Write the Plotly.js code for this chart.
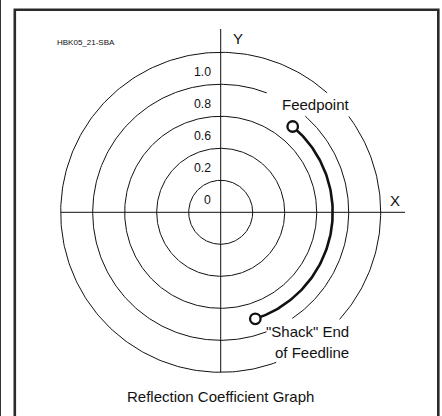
<!DOCTYPE html>
<html><head><meta charset="utf-8">
<script src="https://cdn.plot.ly/plotly-3.0.1.min.js"></script>
<style>html,body{margin:0;padding:0;background:#fff;} #chart{width:442px;height:416px;}</style>
</head><body><div id="chart"></div>
<script>
// ---- chart data ----
const ringRadii = [0.2, 0.4, 0.6, 0.8, 1.0];
const ringLabels = ['0', '0.2', '0.6', '0.8', '1.0'];
const feedRadius = 0.70;
const feedpointAngle = 50;   // degrees
const shackAngle = -72;      // degrees
const axisLabels = ['X', 'Y'];
const feedpointLabel = 'Feedpoint';
const shackLabel = ['"Shack" End', 'of Feedline'];
const chartTitle = 'Reflection Coefficient Graph';
const figureId = 'HBK05_21-SBA';

// ---- layout geometry ----
const W = 442, H = 416, CX = 220.7, CY = 212.3, S = 160;
const px = p => (p - CX) / S;
const py = p => (CY - p) / S;
const FONT = 'Liberation Sans, Arial, Helvetica, sans-serif';
const INK = '#111';
// visible angular ranges of rings that are interrupted by text
const ringArcs = {
  3: [[68.9, 291], [-56, 48.6]],
  4: [[48.3, 290.3], [-42, 36.8]]
};

function arc(r, a0, a1, xs, ys) {
  const n = Math.max(2, Math.ceil(Math.abs(a1 - a0)));
  for (let i = 0; i <= n; i++) {
    const a = (a0 + (a1 - a0) * i / n) * Math.PI / 180;
    xs.push(r * Math.cos(a)); ys.push(r * Math.sin(a));
  }
}

const traces = [];
ringRadii.forEach((r, i) => {
  const xs = [], ys = [];
  const ranges = ringArcs[i] || [[0, 360]];
  ranges.forEach((rg, k) => {
    if (k > 0) { xs.push(null); ys.push(null); }
    arc(r, rg[0], rg[1], xs, ys);
  });
  traces.push({x: xs, y: ys, type: 'scatter', mode: 'lines',
    line: {color: INK, width: 1}, hoverinfo: 'skip', showlegend: false});
});

// feedline arc
{
  const xs = [], ys = [];
  arc(feedRadius, feedpointAngle, shackAngle, xs, ys);
  traces.push({x: xs, y: ys, type: 'scatter', mode: 'lines',
    line: {color: INK, width: 2.6}, hoverinfo: 'skip', showlegend: false});
  const ends = [feedpointAngle, shackAngle].map(a => a * Math.PI / 180);
  traces.push({x: ends.map(a => feedRadius * Math.cos(a)), y: ends.map(a => feedRadius * Math.sin(a)),
    type: 'scatter', mode: 'markers',
    marker: {size: 10.5, color: '#fff', line: {color: INK, width: 2.3}},
    hoverinfo: 'skip', showlegend: false});
}

const annotations = [];
function ann(text, x, y, size, xanchor, extra) {
  annotations.push(Object.assign({text, x, y, xref: 'x', yref: 'y', showarrow: false,
    xanchor: xanchor || 'center', yanchor: 'middle',
    font: {family: FONT, size, color: INK}}, extra || {}));
}
ringRadii.forEach((r, i) => ann(ringLabels[i], px(212.5), r - 0.125, 12.3, 'right'));
ann(axisLabels[0], px(394.5), py(200.5), 15);
ann(axisLabels[1], px(237.5), py(38.5), 15);
ann(feedpointLabel, px(279.5), py(104.5), 15, 'left');
ann(shackLabel[0], px(350.5), py(331.5), 15, 'right');
ann(shackLabel[1], px(350.5), py(352), 15, 'right');
ann(chartTitle, px(220.5), py(396), 15);
ann(figureId, px(54.5), py(42.5), 8, 'left');

const shapes = [
  {type: 'line', xref: 'x', yref: 'y', x0: -1.0, x1: px(405), y0: 0, y1: 0, line: {color: INK, width: 1}},
  {type: 'line', xref: 'x', yref: 'y', x0: 0, x1: 0, y0: -1.0, y1: py(29), line: {color: INK, width: 1}},
  {type: 'rect', xref: 'x', yref: 'y', x0: px(14.8), x1: px(438.3), y0: py(9.8), y1: py(430),
    line: {color: '#2a2a2a', width: 2.6}},
  {type: 'line', xref: 'x', yref: 'y', x0: px(0.5), x1: px(0.5), y0: py(0), y1: py(416),
    line: {color: '#333', width: 1}}
];

const layout = {
  width: W, height: H, autosize: false,
  margin: {l: 0, r: 0, t: 0, b: 0, pad: 0},
  paper_bgcolor: '#fff', plot_bgcolor: '#fff',
  xaxis: {range: [px(0), px(W)], visible: false, fixedrange: true},
  yaxis: {range: [py(H), py(0)], visible: false, fixedrange: true},
  showlegend: false, shapes, annotations, hovermode: false
};
Plotly.newPlot('chart', traces, layout, {staticPlot: true, displayModeBar: false});
</script>
</body></html>
